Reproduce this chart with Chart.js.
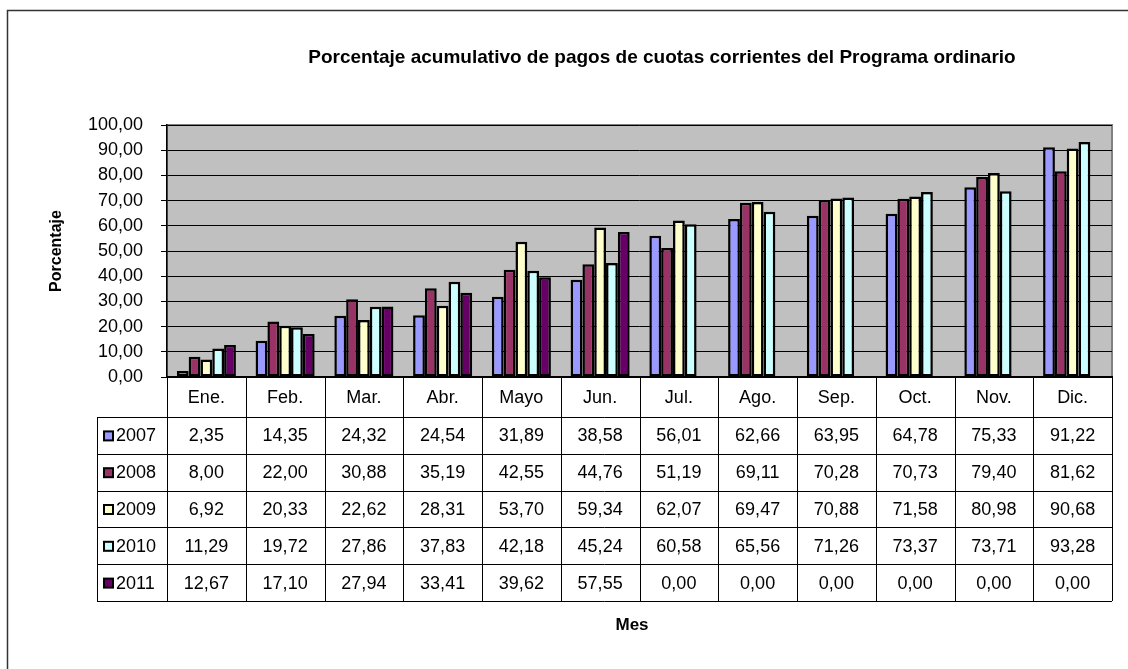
<!DOCTYPE html>
<html>
<head>
<meta charset="utf-8">
<script src="https://cdn.jsdelivr.net/npm/chart.js@4.4.1/dist/chart.umd.min.js"></script>
<style>
  body { margin: 0; background: #fff; }
  canvas { display: block; }
</style>
</head>
<body>
<canvas id="chartCanvas" width="1128" height="669"></canvas>
<script>
const months = ['Ene.', 'Feb.', 'Mar.', 'Abr.', 'Mayo', 'Jun.', 'Jul.', 'Ago.', 'Sep.', 'Oct.', 'Nov.', 'Dic.'];
const years = ['2007', '2008', '2009', '2010', '2011'];
const values2007 = [2.35, 14.35, 24.32, 24.54, 31.89, 38.58, 56.01, 62.66, 63.95, 64.78, 75.33, 91.22];
const values2008 = [8.00, 22.00, 30.88, 35.19, 42.55, 44.76, 51.19, 69.11, 70.28, 70.73, 79.40, 81.62];
const values2009 = [6.92, 20.33, 22.62, 28.31, 53.70, 59.34, 62.07, 69.47, 70.88, 71.58, 80.98, 90.68];
const values2010 = [11.29, 19.72, 27.86, 37.83, 42.18, 45.24, 60.58, 65.56, 71.26, 73.37, 73.71, 93.28];
const values2011 = [12.67, 17.10, 27.94, 33.41, 39.62, 57.55, 0.00, 0.00, 0.00, 0.00, 0.00, 0.00];
const seriesColors = ['#9999FF', '#993366', '#FFFFCC', '#CCFFFF', '#660066'];

const allSeries = [values2007, values2008, values2009, values2010, values2011];
const FONT = 'Liberation Sans, Arial, sans-serif';

function fmt(v) {
    return v.toFixed(2).replace('.', ',');
}

// background, frame, data table and titles drawn around the plot
const excelLook = {
    id: 'excelLook',
    beforeDraw(chart) {
        const ctx = chart.ctx;
        const a = chart.chartArea;
        ctx.save();
        ctx.fillStyle = '#fff';
        ctx.fillRect(0, 0, chart.width, chart.height);
        ctx.strokeStyle = '#333';
        ctx.lineWidth = 1.5;
        ctx.strokeRect(7.5, 10.5, chart.width + 20, chart.height + 20);
        ctx.fillStyle = '#C0C0C0';
        ctx.fillRect(a.left, a.top, a.right - a.left, a.bottom - a.top);
        ctx.strokeStyle = '#808080';
        ctx.lineWidth = 2;
        ctx.strokeRect(a.left, a.top, a.right - a.left, a.bottom - a.top);
        ctx.restore();
    },
    afterDraw(chart) {
        const ctx = chart.ctx;
        const a = chart.chartArea;
        const xs = chart.scales.x;
        const colW = (a.right - a.left) / months.length;
        const headTop = a.bottom;
        const headBottom = 417;
        const rowH = 36.8;
        const tableBottom = headBottom + rowH * years.length;
        const legendLeft = 97;

        ctx.save();
        ctx.strokeStyle = '#000';
        ctx.lineWidth = 1;
        ctx.beginPath();
        // vertical lines
        for (let i = 0; i <= months.length; i++) {
            const x = Math.round(a.left + i * colW) + 0.5;
            ctx.moveTo(x, headTop);
            ctx.lineTo(x, tableBottom);
        }
        ctx.moveTo(legendLeft + 0.5, headBottom);
        ctx.lineTo(legendLeft + 0.5, tableBottom);
        // horizontal lines
        for (let r = 0; r <= years.length; r++) {
            const y = Math.round(headBottom + r * rowH) + 0.5;
            ctx.moveTo(legendLeft, y);
            ctx.lineTo(a.right, y);
        }
        ctx.stroke();

        ctx.fillStyle = '#000';
        ctx.font = '18px ' + FONT;
        ctx.textAlign = 'center';
        ctx.textBaseline = 'middle';
        months.forEach((m, i) => {
            ctx.fillText(m, xs.getPixelForTick(i), (headTop + headBottom) / 2 + 1);
        });
        allSeries.forEach((vals, r) => {
            const cy = headBottom + r * rowH + rowH / 2 + 1;
            vals.forEach((v, i) => {
                ctx.fillText(fmt(v), xs.getPixelForTick(i), cy);
            });
        });

        // legend keys
        ctx.textAlign = 'left';
        years.forEach((yr, r) => {
            const cy = headBottom + r * rowH + rowH / 2;
            ctx.fillStyle = seriesColors[r];
            ctx.fillRect(104, cy - 4, 9, 9);
            ctx.strokeStyle = '#000';
            ctx.lineWidth = 2;
            ctx.strokeRect(104, cy - 4, 9, 9);
            ctx.fillStyle = '#000';
            ctx.fillText(yr, 116, cy + 1);
        });

        // titles
        ctx.textAlign = 'center';
        ctx.font = 'bold 19px ' + FONT;
        ctx.fillText('Porcentaje acumulativo de pagos de cuotas corrientes del Programa ordinario', 662, 58);
        ctx.font = 'bold 17px ' + FONT;
        ctx.fillText('Mes', 632, 625);
        ctx.translate(57, (a.top + a.bottom) / 2);
        ctx.rotate(-Math.PI / 2);
        ctx.font = 'bold 16px ' + FONT;
        ctx.fillText('Porcentaje', 0, 0);
        ctx.restore();
    }
};

const chartConfig = {
    type: 'bar',
    data: {
        labels: months,
        datasets: years.map((yr, i) => ({
            label: yr,
            data: allSeries[i],
            backgroundColor: seriesColors[i],
            borderColor: '#000',
            borderWidth: 2.5,
            borderSkipped: false,
            categoryPercentage: 0.75,
            barPercentage: 1.0
        }))
    },
    options: {
        responsive: false,
        animation: false,
        layout: { padding: { top: 125, right: 16, bottom: 292, left: 0 } },
        plugins: {
            legend: { display: false },
            title: { display: false },
            tooltip: { enabled: false }
        },
        scales: {
            x: {
                ticks: { display: false },
                grid: { display: false },
                border: { display: true, color: '#000', width: 1.5 },
                afterFit: (s) => { s.height = 0; }
            },
            y: {
                min: 0,
                max: 100,
                ticks: {
                    stepSize: 10,
                    color: '#000',
                    padding: 18,
                    font: { family: FONT, size: 18 },
                    callback: (v) => fmt(v)
                },
                grid: { color: '#000', lineWidth: 1, tickLength: 6 },
                border: { color: '#000', width: 1.5 },
                afterFit: (s) => { s.width = 167; }
            }
        }
    },
    plugins: [excelLook]
};

window.myChart = new Chart(document.getElementById('chartCanvas').getContext('2d'), chartConfig);
</script>
</body>
</html>
